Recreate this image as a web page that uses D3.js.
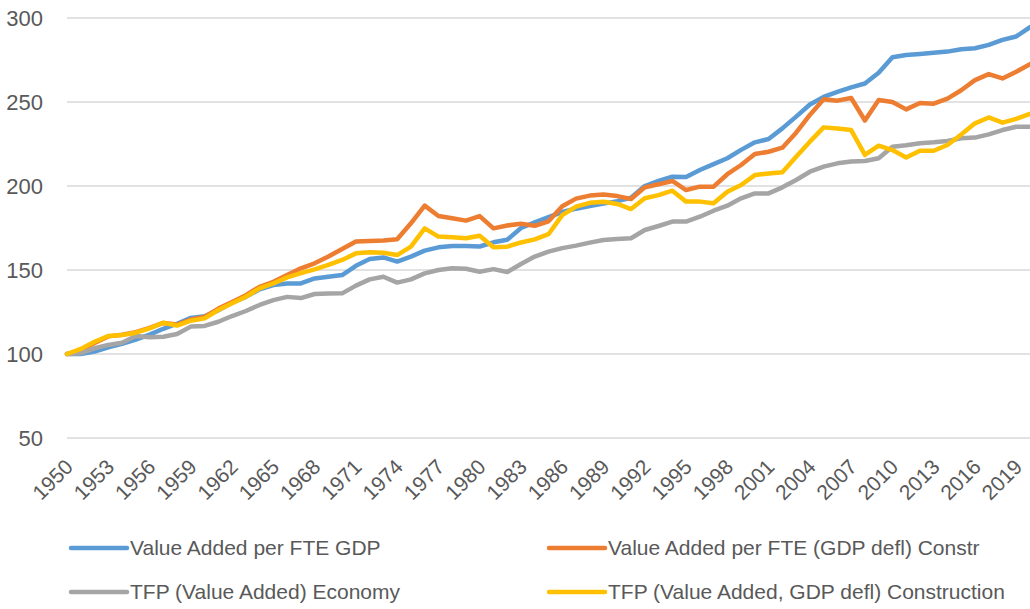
<!DOCTYPE html>
<html>
<head>
<meta charset="utf-8">
<script src="https://cdn.jsdelivr.net/npm/d3@7"></script>
<style>
  body { margin: 0; background: #fff; }
  svg { display: block; font-family: "Liberation Sans", Arial, sans-serif; }
</style>
</head>
<body>
<div id="chart"></div>
<script>
const years = d3.range(1950, 2021);
const xTickLabels = years.filter(y => (y - 1950) % 3 === 0);
const yTicks = [50, 100, 150, 200, 250, 300];

const vaFteGdp = [100, 100, 101.5, 104, 106, 108.5, 111.5, 115, 118, 121.5,
  122.5, 126, 130.5, 134, 138.5, 141, 142, 142, 145, 146,
  147, 152.5, 156.5, 157.5, 155, 158, 161.5, 163.5, 164.3, 164.3,
  164, 166.5, 168, 175, 178.3, 181.5, 184.5, 186.5, 188, 189.5,
  191, 193, 200, 203, 205.5, 205.3, 209.5, 213, 216.5, 221.5,
  226, 228, 234.3, 241.3, 248.5, 253, 256, 258.7, 261, 267.4,
  276.6, 278, 278.6, 279.3, 280, 281.4, 282, 284, 287, 289, 294.5];

const vaFteConstr = [100, 102, 106.5, 110.5, 111.5, 113, 115.5, 118.5, 117.5, 120.5,
  122, 127, 131, 135, 140, 143, 147, 151, 154, 158,
  162.5, 167, 167.3, 167.6, 168.3, 177.8, 188.3, 182.1, 180.8, 179.4,
  182.1, 174.8, 176.5, 177.5, 176.3, 179, 188, 192.5, 194.3, 195,
  194, 192.3, 199.2, 201, 203, 197.6, 199.6, 199.6, 207, 212.5,
  219, 220.4, 222.8, 231.7, 242.3, 251.6, 250.8, 252.4, 239, 251.2,
  250, 245.6, 249.4, 249, 252, 257, 263, 266.6, 264, 268, 272.5];

const tfpEconomy = [100, 100.5, 103.4, 105.4, 106.7, 110.7, 110, 110.3, 111.9, 116.3,
  116.7, 119.2, 122.6, 125.6, 129.2, 132.1, 134, 133.3, 135.7, 136,
  136.1, 140.7, 144.4, 146, 142.5, 144.4, 148, 150, 151, 150.7,
  149, 150.5, 148.8, 153.6, 158, 160.9, 163, 164.5, 166.3, 167.9,
  168.5, 168.9, 173.8, 176.2, 178.8, 178.8, 181.7, 185.3, 188.3, 192.7,
  195.6, 195.6, 199.2, 203.6, 208.5, 211.5, 213.5, 214.6, 214.9, 216.5,
  223.4, 224.2, 225.4, 226, 226.8, 228.4, 228.8, 230.7, 233.3, 235.3, 235.3];

const tfpConstr = [100, 103, 107.3, 110.7, 111.3, 112.7, 115.3, 118.6, 116.9, 119.8,
  121.2, 126.2, 130.2, 134.1, 139.1, 142, 145.6, 148.1, 150.4, 153,
  156, 159.9, 160.5, 160.3, 158.9, 163.9, 174.8, 169.9, 169.5, 168.9,
  170.4, 163.5, 163.9, 166.4, 168.2, 171.3, 182.7, 187.7, 190, 190.6,
  189.3, 186.3, 192.7, 194.6, 197.2, 190.7, 190.7, 189.7, 196.6, 200.6,
  206.5, 207.5, 208.2, 217.4, 226.4, 234.9, 234.2, 233.3, 218.5, 224,
  221.4, 217, 221, 221, 224.4, 230.7, 237.3, 240.8, 237.7, 240, 243];

const seriesNames = ["Value Added per FTE GDP", "Value Added per FTE (GDP defl) Constr",
  "TFP (Value Added) Economy", "TFP (Value Added, GDP defl) Construction"];
const seriesColors = ["#5B9BD5", "#ED7D31", "#A5A5A5", "#FFC000"];
const seriesValues = [vaFteGdp, vaFteConstr, tfpEconomy, tfpConstr];

const WIDTH = 1030, HEIGHT = 609;

const svg = d3.select("#chart")
  .append("svg")
    .attr("width", WIDTH)
    .attr("height", HEIGHT);

const x = d3.scaleLinear().domain([1950, 2020]).range([67, 1030]);
const y = d3.scaleLinear().domain([50, 300]).range([438, 18]);

// gridlines
svg.append("g")
  .selectAll("line")
  .data(yTicks)
  .join("line")
    .attr("x1", x(1950))
    .attr("x2", x(2020))
    .attr("y1", d => y(d))
    .attr("y2", d => y(d))
    .attr("stroke", "#D9D9D9")
    .attr("stroke-width", 1.5);

// y axis labels
svg.append("g")
  .selectAll("text")
  .data(yTicks)
  .join("text")
    .attr("x", 43)
    .attr("y", d => y(d))
    .attr("dy", "0.36em")
    .attr("text-anchor", "end")
    .attr("fill", "#595959")
    .style("font-size", "22px")
    .text(d => d);

// x axis labels
svg.append("g")
  .selectAll("text")
  .data(xTickLabels)
  .join("text")
    .attr("transform", d => `translate(${x(d) + 2}, 463) rotate(-45)`)
    .attr("text-anchor", "end")
    .attr("dy", "0.35em")
    .attr("fill", "#595959")
    .style("font-size", "21px")
    .text(d => d);

const line = d3.line()
  .x((d, i) => x(years[i]))
  .y(d => y(d));

svg.append("g")
  .selectAll("path")
  .data(seriesValues)
  .join("path")
    .attr("d", line)
    .attr("fill", "none")
    .attr("stroke", (d, i) => seriesColors[i])
    .attr("stroke-width", 4.5)
    .attr("stroke-linejoin", "round")
    .attr("stroke-linecap", "round");

// legend
const legendPos = [[71, 548], [549, 548], [71, 592], [549, 592]];
const legend = svg.append("g")
  .selectAll("g")
  .data(seriesNames)
  .join("g")
    .attr("transform", (d, i) => `translate(${legendPos[i][0]}, ${legendPos[i][1]})`);

legend.append("line")
  .attr("x1", 0).attr("x2", 56)
  .attr("stroke", (d, i) => seriesColors[i])
  .attr("stroke-width", 4.5)
  .attr("stroke-linecap", "round");

legend.append("text")
  .attr("x", 59)
  .attr("dy", "0.35em")
  .attr("fill", "#595959")
  .style("font-size", "21px")
  .text(d => d);
</script>
</body>
</html>
